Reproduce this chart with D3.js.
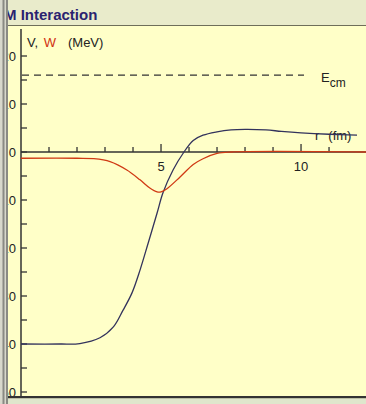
<!DOCTYPE html>
<html>
<head>
<meta charset="utf-8">
<script src="https://cdn.jsdelivr.net/npm/d3@7"></script>
<style>
  body { margin: 0; background: #ffffc8; }
  svg { display: block; font-family: Arial, "Liberation Sans", sans-serif; }
</style>
</head>
<body>
<div id="chart"></div>
<script>
// potential data, r in fm, V and W in MeV
var rV = [0, 1.4, 2.1, 2.82, 3.29, 3.64, 3.96, 4.25, 4.54, 4.86, 5.07, 5.43, 5.82, 6.15, 6.5, 7.0, 7.5, 8.0, 8.75, 9.3, 10, 11, 12];
var V  = [-40, -40, -39.9, -38.7, -36.5, -33, -29.4, -24.6, -19, -12.7, -8.5, -3.75, 0, 2.4, 3.5, 4.2, 4.6, 4.7, 4.6, 4.3, 4.0, 3.7, 3.5];
var rW = [0, 2.0, 2.6, 3.18, 3.78, 4.25, 4.6, 4.86, 5.0, 5.2, 5.68, 6.15, 6.5, 7.0, 7.5, 12.4];
var W  = [-1.3, -1.3, -1.4, -2.0, -3.75, -5.8, -7.5, -8.3, -8.3, -7.7, -5.2, -2.6, -1.4, -0.3, 0, 0];
var Ecm = 16;
var yTicks = [20, 10, 0, -10, -20, -30, -40, -50];
var yMinor = [15, 5, -5, -15, -25, -35, -45];
var xTicks = [1, 2, 3, 4, 5, 6, 7, 8, 9, 10, 11];
var xLabels = [5, 10];

var width = 366, height = 404;

var svg = d3.select("#chart").append("svg")
    .attr("width", width)
    .attr("height", height);

svg.append("rect").attr("width", width).attr("height", height).attr("fill", "#ffffc8");

var x = d3.scaleLinear().domain([0, 12.32]).range([21, 366]);
var y = d3.scaleLinear().domain([0, -50]).range([152, 392]);

// y axis line + ticks
svg.append("line")
    .attr("x1", 21).attr("x2", 21)
    .attr("y1", 29).attr("y2", 397)
    .attr("stroke", "#333").attr("stroke-width", 1.5);

svg.selectAll(".ytick")
    .data(yTicks.concat(yMinor))
    .enter().append("line")
    .attr("x1", 21).attr("x2", 27)
    .attr("y1", function(d) { return y(d); })
    .attr("y2", function(d) { return y(d); })
    .attr("stroke", "#333").attr("stroke-width", 1.3);

// labels are partly hidden behind the window frame, like the original
svg.selectAll(".ylab")
    .data(yTicks)
    .enter().append("text")
    .attr("x", 16)
    .attr("y", function(d) { return y(d) + 5; })
    .attr("text-anchor", "end")
    .attr("font-size", 13)
    .attr("fill", "#222")
    .text(function(d) { return d; });

// x axis
svg.append("line")
    .attr("x1", 21).attr("x2", 366)
    .attr("y1", y(0)).attr("y2", y(0))
    .attr("stroke", "#333").attr("stroke-width", 1.5);

svg.selectAll(".xtick")
    .data(xTicks)
    .enter().append("line")
    .attr("x1", function(d) { return x(d); })
    .attr("x2", function(d) { return x(d); })
    .attr("y1", y(0))
    .attr("y2", function(d) { return d % 5 == 0 ? y(0) - 8 : y(0) - 5; })
    .attr("stroke", "#333").attr("stroke-width", 1.3);

svg.selectAll(".xlab")
    .data(xLabels)
    .enter().append("text")
    .attr("x", function(d) { return x(d); })
    .attr("y", y(0) + 19)
    .attr("text-anchor", "middle")
    .attr("font-size", 13)
    .attr("fill", "#222")
    .text(function(d) { return d; });

var rl = svg.append("text")
    .attr("x", 315).attr("y", 140)
    .attr("font-size", 13)
    .attr("fill", "#222");
rl.append("tspan").text("r");
rl.append("tspan").attr("dx", 9).text("(fm)");

// Ecm dashed line
svg.append("line")
    .attr("x1", 22).attr("x2", 304)
    .attr("y1", y(Ecm)).attr("y2", y(Ecm))
    .attr("stroke", "#333").attr("stroke-width", 1.3)
    .attr("stroke-dasharray", "7,5");

var ecm = svg.append("text")
    .attr("x", 321).attr("y", 82)
    .attr("font-size", 13)
    .attr("fill", "#222");
ecm.append("tspan").text("E");
ecm.append("tspan").attr("dy", 5).attr("font-size", 12).text("cm");

// axis title
var lab = svg.append("text")
    .attr("x", 27).attr("y", 47)
    .attr("font-size", 13)
    .attr("fill", "#222");
lab.append("tspan").text("V, ");
lab.append("tspan").attr("dx", 2).attr("fill", "#d03010").text("W");
lab.append("tspan").attr("dx", 12).text("(MeV)");

// curves
var line = d3.line()
    .x(function(d) { return x(d[0]); })
    .y(function(d) { return y(d[1]); })
    .curve(d3.curveCatmullRom.alpha(0.5));

svg.append("path")
    .datum(d3.zip(rV, V))
    .attr("d", line)
    .attr("fill", "none")
    .attr("stroke", "#33335c")
    .attr("stroke-width", 1.3);

svg.append("path")
    .datum(d3.zip(rW, W))
    .attr("d", line)
    .attr("fill", "none")
    .attr("stroke", "#d03a14")
    .attr("stroke-width", 1.3);

// title bar
svg.append("rect").attr("x", 0).attr("y", 0).attr("width", width).attr("height", 25).attr("fill", "#e9ebcb");
svg.append("line").attr("x1", 0).attr("x2", width).attr("y1", 25.5).attr("y2", 25.5)
    .attr("stroke", "#6e6e5a").attr("stroke-width", 1.2);
svg.append("text")
    .attr("x", 4).attr("y", 20)
    .attr("font-size", 15)
    .attr("font-weight", "bold")
    .attr("fill", "#2a2270")
    .text("M Interaction");

// bottom border
svg.append("rect").attr("x", 0).attr("y", 396).attr("width", width).attr("height", 2.5).attr("fill", "#333");
svg.append("rect").attr("x", 0).attr("y", 398.5).attr("width", width).attr("height", 6).attr("fill", "#dfe6cc");

// left window border
svg.append("rect").attr("x", 0).attr("y", 0).attr("width", 8).attr("height", height).attr("fill", "#d8d8cc");
svg.append("rect").attr("x", 2.5).attr("y", 0).attr("width", 2).attr("height", height).attr("fill", "#8a8a84");
svg.append("rect").attr("x", 6).attr("y", 0).attr("width", 2).attr("height", height).attr("fill", "#8a8a84");
</script>
</body>
</html>
